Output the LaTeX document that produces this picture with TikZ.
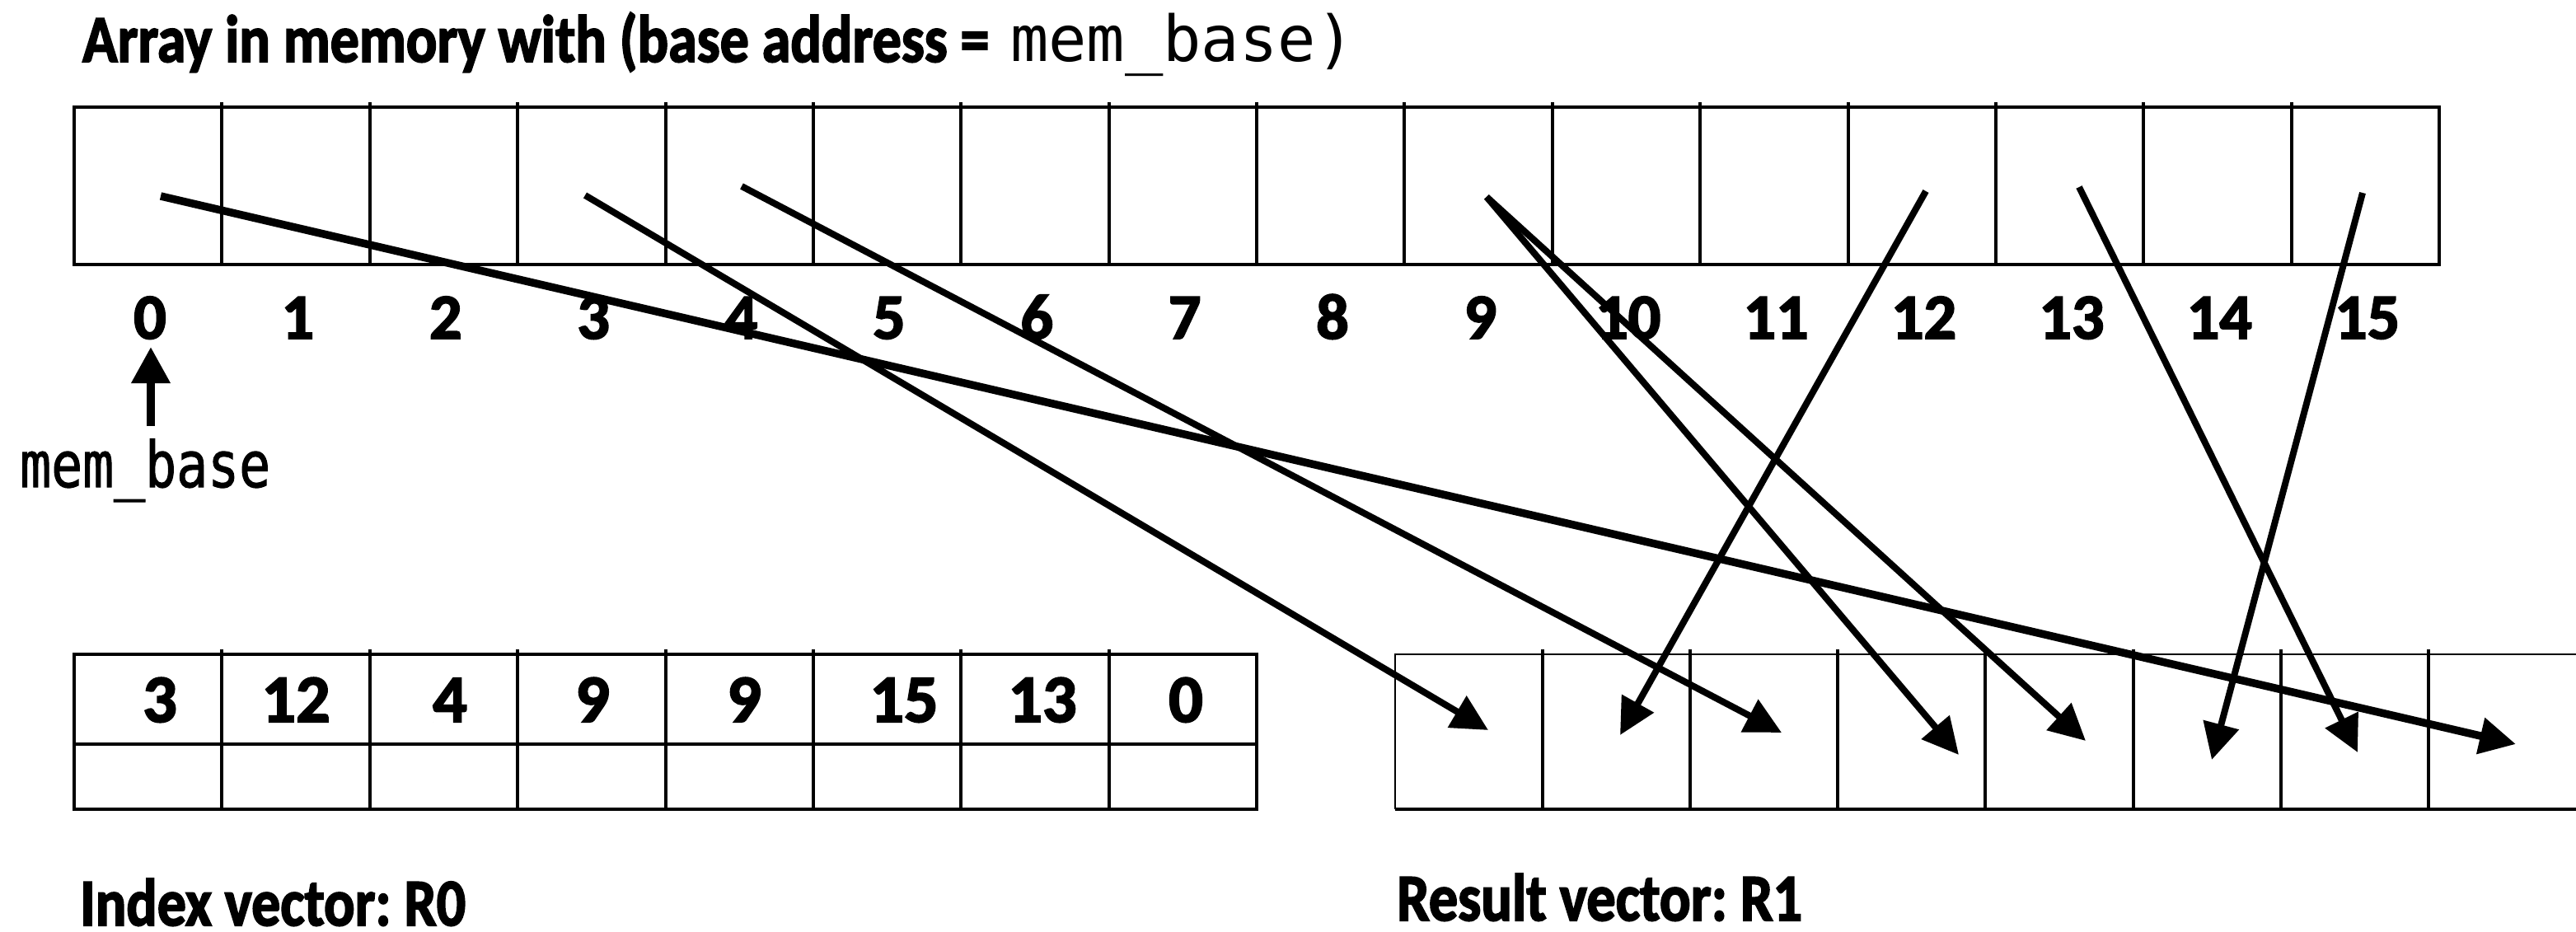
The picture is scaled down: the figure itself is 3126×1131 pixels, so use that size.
\documentclass[tikz,border=0pt]{standalone}
\usepackage{graphicx}
\usepackage{fontspec}
\setmainfont{Carlito}[BoldFeatures={FakeBold=2.5}]
\newfontfamily\monof{DejaVu Sans Mono}
\newfontfamily\monob{DejaVu Sans Mono}[FakeBold=1.5]
\usetikzlibrary{arrows.meta}
\frenchspacing
\begin{document}
\begin{tikzpicture}[x=1pt,y=-1pt,
  frame/.style={line width=4.5pt},
  divider/.style={line width=4pt},
  link/.style={line width=8pt,-{Triangle[length=44pt,width=43pt]}},
  thicklink/.style={line width=9.5pt,-{Triangle[length=44pt,width=43pt]}},
  lbl/.style={inner sep=0pt,anchor=base,font=\fontsize{78pt}{90pt}\selectfont\bfseries},
  val/.style={inner sep=0pt,anchor=base,font=\fontsize{82pt}{90pt}\selectfont\bfseries},
  txt/.style={inner sep=0pt,anchor=base west}]
\useasboundingbox (0,0) rectangle (3126,1131);

% title
\node[txt] (title) at (100,75) {\resizebox{1100pt}{\height}{\fontsize{81pt}{90pt}\selectfont\bfseries Array in memory with (base address =}};
\node[txt] (titlecode) at (1226,75) {\fontsize{77pt}{90pt}\selectfont\monof mem\_base)};

% memory array
\draw[frame] (90,130) rectangle (2960,321);
\foreach \i in {1,...,15} \draw[divider] ({90+179.375*\i},124) -- ({90+179.375*\i},321);
\foreach \i in {0,...,15} \node[lbl] (lab\i) at ({182+179.375*\i},411) {\i};

% mem_base pointer
\node[txt] (membase) at (24,591) {\resizebox{304pt}{\height}{\fontsize{77pt}{90pt}\selectfont\monob mem\_base}};
\coordinate (mbtail) at (183,517);
\coordinate (mbtip) at (183,421);
\draw[line width=10pt,-{Triangle[length=44pt,width=45pt]}] (mbtail) -- (mbtip);

% index vector R0
\draw[frame] (90,794) rectangle (1525,982);
\draw[frame] (90,903) -- (1525,903);
\foreach \i in {1,...,7} \draw[divider] ({90+179.375*\i},788) -- ({90+179.375*\i},982);
\node[val] (v0) at (194,876) {3};
\node[val] (v1) at (359,876) {12};
\node[val] (v2) at (546,876) {4};
\node[val] (v3) at (719,876) {9};
\node[val] (v4) at (903,876) {9};
\node[val] (v5) at (1097,876) {15};
\node[val] (v6) at (1265,876) {13};
\node[val] (v7) at (1439,876) {0};
\node[txt] (idxlabel) at (97,1123) {\resizebox{468pt}{\height}{\fontsize{81pt}{90pt}\selectfont\bfseries Index vector: R0}};

% result vector R1
\draw[line width=2.5pt] (3126,794) -- (1693,794) -- (1693,982);
\draw[line width=4pt] (1693,982) -- (3126,982);
\foreach \i in {1,...,7} \draw[divider] ({1693+179.1*\i},788) -- ({1693+179.1*\i},984);
\node[txt] (reslabel) at (1695,1117) {\resizebox{492pt}{\height}{\fontsize{81pt}{90pt}\selectfont\bfseries Result vector: R1}};

% gather arrows
\coordinate (src0) at (195,238);
\coordinate (src3) at (710,237);
\coordinate (src4) at (900,226);
\coordinate (src9) at (1804,239);
\coordinate (src12) at (2337,232);
\coordinate (src13) at (2523,227);
\coordinate (src15) at (2867,234);
\coordinate (dst0) at (1806,886);
\coordinate (dst1) at (1966,892);
\coordinate (dst2) at (2162,889);
\coordinate (dst3) at (2377,916);
\coordinate (dst4) at (2531,899);
\coordinate (dst5) at (2684,922);
\coordinate (dst6) at (2861,913);
\coordinate (dst7) at (3053,903);
\draw[link] (src3) -- (dst0);
\draw[link] (src12) -- (dst1);
\draw[link] (src4) -- (dst2);
\draw[link] (src9) -- (dst3);
\draw[link] (src9) -- (dst4);
\draw[link] (src15) -- (dst5);
\draw[link] (src13) -- (dst6);
\draw[thicklink] (src0) -- (dst7);
\end{tikzpicture}
\end{document}
